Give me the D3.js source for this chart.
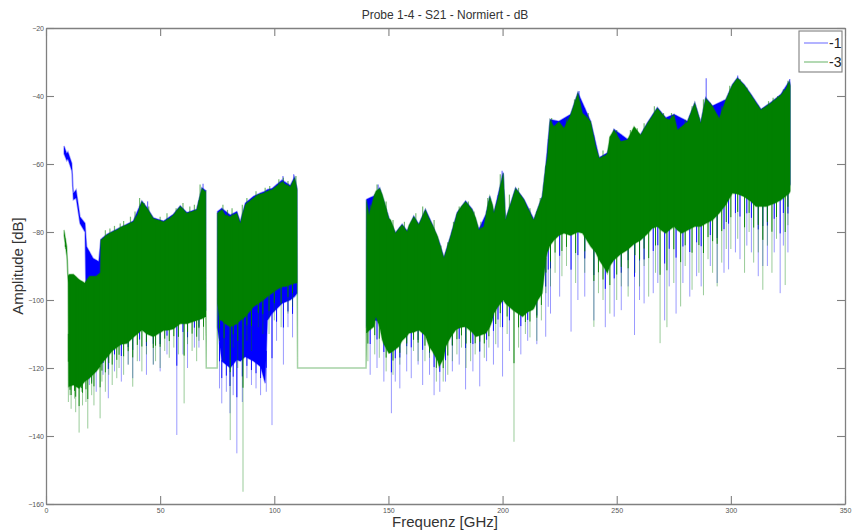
<!DOCTYPE html>
<html>
<head>
<meta charset="utf-8">
<script src="https://cdn.jsdelivr.net/npm/d3@7"></script>
<style>
  body { margin: 0; background: #fff; }
  svg { font-family: "Liberation Sans", Arial, sans-serif; }
</style>
</head>
<body>
<div id="chart"></div>
<script>
// series names and colours (legend)
var seriesNames = ["-1", "-3"];
var seriesColors = ["#0000ff", "#008000"];

var xTicks = [0, 50, 100, 150, 200, 250, 300, 350];
var yTicks = [-160, -140, -120, -100, -80, -60, -40, -20];

// envelope of series -1 : [frequency GHz, upper dB, lower dB]; null = no data
var s1Envelope = [
  [7.9, -54.7, -57], [9.1, -56.9, -59], [9.6, -56.4, -58.5], [11.3, -59.8, -62],
  [12.0, -68.6, -70.5], [13.2, -67.6, -70], [14.9, -75.5, -77.5], [17.1, -77.4, -80],
  [17.8, -84.3, -112], [20.6, -87.7, -116], [23.1, -88.7, -116],
  [24.0, -82.2, -117], [26.6, -80.7, -115], [31, -79.2, -112], [35.4, -77.7, -110.8],
  [38.2, -76.8, -109], [42, -70.9, -106.8], [44.2, -72.8, -108], [47, -75.8, -108.8],
  [51.5, -76.8, -107], [55.8, -74.8, -106.5], [58.8, -72.3, -105], [61.7, -74.3, -105],
  [66, -73.3, -104], [68.3, -67, -103.5], [70.0, -67.8, -103],
  [70.1, null, null],
  [75.1, -74, -108], [77, -73, -118], [80.7, -75, -120], [83.6, -74, -117.6],
  [85.1, -77, -118], [87.3, -71.5, -116.7], [90.9, -69.5, -118], [94, -68.5, -119.6],
  [96, -68, -124.5], [97, -67.5, -106], [99, -67.2, -104], [103.4, -64.7, -101],
  [107, -66.3, -100], [108.9, -63.8, -99], [110, -67.2, -98],
  [110.1, null, null],
  [140.4, -70.4, -107.8], [143.6, -69.4, -106], [146.2, -67, -106], [150.2, -75.8, -113.7],
  [153.1, -80.2, -112.5], [156, -77.7, -110], [158.2, -79.7, -108.5], [161.1, -75.3, -107.5],
  [163.3, -77.7, -106.8], [166.2, -73.3, -108.5], [169.2, -77.7, -113], [172.2, -82.8, -117.6],
  [174.3, -87.5, -115], [177.2, -81.2, -109], [180.1, -74.3, -106.5], [183.8, -70.9, -106],
  [186.7, -73.3, -107.5], [189.6, -79.2, -108.5], [192.7, -74.8, -107.8], [194.4, -69.4, -106],
  [196.2, -74.3, -102], [200.3, -62.5, -98], [201.3, -76.3, -99], [205.7, -67, -101.5],
  [209.4, -70.4, -102.5], [213.7, -76.3, -100.5], [217.4, -69.4, -96], [218.9, -60.6, -86.2],
  [220.8, -46.9, -82], [224.7, -47.4, -79], [229.8, -45.4, -79], [233, -39, -78],
  [238.6, -47.4, -82.3], [242.3, -58.1, -86.2], [245.9, -56.7, -90.2], [248.8, -49.8, -86.2],
  [254.7, -52.7, -83.3], [260.5, -51.3, -80.4], [263.5, -47.8, -78.5], [267.8, -43.4, -76.4],
  [271.5, -46.4, -78.4], [275.1, -45.4, -76.4], [281, -47.4, -77.5], [284.2, -41.9, -76.4],
  [286.8, -47.8, -76.4], [289, -40.5, -75.5], [292, -42.9, -74.5], [297.8, -41, -70],
  [300.7, -36.6, -66.6], [302.9, -34.6, -66.8], [305.8, -36.6, -67.6], [308.8, -39.5, -69],
  [313.2, -43.9, -70.5], [317.5, -41.9, -70], [321.9, -39.5, -68.6], [325.6, -35.6, -66.6],
  [326, -36.8, -66]
];

// envelope of series -3
var s3Envelope = [
  [7.9, -79.4, -81], [9.1, -84.3, -87], [9.7, -93, -95], [9.9, -92.5, -125.5],
  [12, -92.4, -125], [14.5, -94, -126], [17, -95, -124], [19, -93, -123],
  [22, -93, -121], [23.8, -92, -119.5], [24.0, -82.4, -119], [26.6, -80.9, -117],
  [29, -80, -115], [31, -79.4, -114], [33, -78.5, -113], [35.4, -77.9, -112.8],
  [38.2, -77, -111], [40, -75, -110], [42, -71.1, -108.8], [44.2, -73, -110],
  [47, -76, -110.8], [49, -76.5, -110], [51.5, -77, -109], [54, -76, -108.8],
  [55.8, -75, -108.5], [58.8, -72.5, -107], [61.7, -74.5, -107], [64, -74, -106.5],
  [66, -73.5, -106], [68.3, -67.2, -105.5], [69.7, -68.1, -105], [70.0, -68, -105],
  [70.2, -120, -120], [75.0, -120, -120],
  [75.1, -74.5, -101], [76, -74, -105.9], [77, -73.5, -106], [78.5, -75, -107],
  [80.7, -75.5, -107.9], [82, -75, -107.5], [83.6, -74.5, -107], [85.1, -77.4, -106],
  [87.3, -72, -104.9], [89, -71, -103.5], [90.9, -70, -102], [93, -69, -101],
  [95.3, -68.6, -100], [97, -68, -99], [99, -67.6, -98], [101, -66.5, -97],
  [103.4, -65.2, -96.1], [105, -66, -96], [107, -66.7, -95.5], [108.9, -64.2, -95.1],
  [110, -67.6, -95], [110.2, -120, -120], [140.2, -120, -120],
  [140.4, -70.6, -109.8], [141.5, -75, -109], [143.6, -69.6, -107.9], [144.5, -68, -104.9],
  [146.2, -67.2, -108], [147.3, -69, -111.8], [148, -70.6, -113], [150.2, -76, -115.7],
  [151, -76.5, -115.5], [153.1, -80.4, -114.5], [154.6, -79, -113.7], [156, -77.9, -112],
  [158.2, -79.9, -110.5], [159, -78, -109.8], [161.1, -75.5, -109.5], [163.3, -77.9, -108.8],
  [166.2, -73.5, -110.5], [167.8, -76, -113.7], [169.2, -77.9, -115], [171.6, -81.4, -118],
  [172.2, -83, -119.6], [174.3, -87.7, -117], [175.1, -86, -113.7], [177.2, -81.4, -111],
  [179.5, -76, -108.8], [180.1, -74.5, -108.5], [182, -72.5, -108], [183.8, -71.1, -107.9],
  [186.7, -73.5, -109.5], [188.3, -76, -110.8], [189.6, -79.4, -110.5], [191.8, -78.4, -110],
  [192.7, -75, -109.8], [194.4, -69.6, -108], [195.6, -72, -105.9], [196.2, -74.5, -104],
  [198, -70, -102], [200.3, -62.7, -100], [201.3, -76.5, -101], [204.4, -70, -102.9],
  [205.7, -67.2, -103.5], [208.8, -70, -104.9], [209.4, -70.6, -104.5], [211, -73, -103.5],
  [213.2, -76, -102.9], [213.7, -76.5, -102.5], [215.5, -73, -100], [217.4, -69.6, -98],
  [218.9, -60.8, -88.2], [219.6, -58, -86], [220.8, -47.1, -84], [222.5, -49, -82.4],
  [224.7, -47.6, -81], [226.9, -49.5, -80.4], [229.8, -45.6, -81], [233, -39.2, -80],
  [235, -45.1, -80.4], [236.5, -46, -82], [238.6, -47.6, -84.3], [240.8, -54.9, -86],
  [242.3, -58.3, -88.2], [245, -57.5, -91], [245.9, -56.9, -92.2], [247, -52, -90],
  [248.8, -50, -88.2], [251.8, -53.4, -86.5], [254.7, -52.9, -85.3], [257.6, -49, -83.5],
  [260.5, -51.5, -82.4], [263.5, -48, -80.5], [265.5, -46, -79], [267.8, -43.6, -78.4],
  [269.5, -45, -79.5], [271.5, -46.6, -80.4], [273, -47, -79.5], [275.1, -45.6, -78.4],
  [276.6, -50, -79.5], [278.5, -49, -80.4], [281, -47.6, -79.5], [284.2, -42.1, -78.4],
  [286.8, -48, -78.4], [289, -40.7, -77.5], [292, -43.1, -76.5], [294.9, -46.6, -74.5],
  [297.8, -41.2, -72], [300.7, -36.8, -68.6], [302.9, -34.8, -68.8], [305.8, -36.8, -69.6],
  [308.8, -39.7, -71], [311, -42, -72.5], [313.2, -44.1, -72.5], [315.5, -43, -72.5],
  [317.5, -42.1, -72], [319.5, -41, -71.5], [321.9, -39.7, -70.6], [324, -38, -69.5],
  [325.6, -35.8, -68.6], [326, -37, -68]
];

// single dips below the dense band: [frequency GHz, dB]
var s1Spikes = [
  [19, -125], [20, -124], [22, -127], [25, -122], [27.3, -128.9], [30, -121], [33, -124],
  [36, -119], [38, -123], [41, -118], [44, -122], [47, -119], [50, -121], [53, -116],
  [57.3, -139.7], [60, -116], [62, -120], [65, -114], [67, -114],
  [76, -126], [77, -130.4], [79, -127], [80.6, -133.3], [82, -128], [83.6, -145.1],
  [86, -130], [88, -123], [90, -125], [92, -126], [94, -128], [96.5, -127], [99, -136.8],
  [101, -112], [104, -119], [106, -108], [108, -111],
  [142, -122], [145, -120], [148, -124], [151.3, -133.3], [153, -124], [155, -126],
  [158, -121], [160, -123], [163, -119], [165, -125], [168, -122], [170, -128],
  [172.5, -127], [175, -124], [178, -121], [181, -119], [183.8, -126.3], [187, -121],
  [190, -125.4], [193, -118], [196, -119], [198, -114], [200, -122.5], [203, -115],
  [208, -116], [211, -112], [215, -113], [218.9, -110.8], [220, -102], [221, -104],
  [225, -99], [230, -109.3], [233, -100], [236, -99], [240, -106], [245, -108],
  [248.9, -104.9], [252, -103], [255, -96], [257.8, -110.3], [260, -100], [262, -101],
  [266, -98], [268, -95], [271, -106], [273, -96], [276, -104], [279, -95], [282, -99],
  [285, -93], [287, -96], [291, -90], [294, -95], [297, -92], [299, -91], [302, -86],
  [304, -88], [307, -84], [309, -86], [312, -93], [314, -90], [316, -90], [319, -86],
  [321.6, -98], [323, -84], [325, -86]
];
var s3Spikes = [
  [8.5, -85], [9.8, -130], [10.5, -128], [11, -132], [12.5, -129], [13, -133],
  [14.5, -139], [15.5, -127], [16, -131], [17.5, -130], [18.3, -137.8], [20, -128],
  [21, -131], [23.7, -134.8], [24.5, -124], [26, -127], [27.5, -122], [29, -125],
  [31, -123], [32, -120], [34, -122], [36, -119], [38, -125.5], [40, -118], [42, -121],
  [44, -116], [47, -119], [48, -118], [50, -120], [52, -115], [54, -117], [56, -114],
  [58, -116], [60.5, -130.4], [62, -113], [64, -115], [66, -118], [67, -112], [69, -111.8],
  [76, -112], [78, -118], [80.7, -141.2], [82, -114], [84, -120], [86.3, -156.4],
  [88, -112], [90, -115], [93, -108], [95, -110], [97.7, -110], [100, -106], [103, -108],
  [106, -104], [108, -102],
  [141, -118], [144, -116], [146, -117], [149, -121], [152, -122], [155, -119],
  [158, -116], [161, -115], [163, -118], [166, -118], [168, -117], [171, -124],
  [174, -124], [176, -122], [178, -118], [180, -116], [182, -114], [184, -120],
  [186, -118], [188, -116], [190, -115], [192, -117], [194, -114], [197, -113],
  [199, -108], [202, -110], [205, -141.7], [207, -114], [210, -110], [212, -111],
  [215, -112], [217, -106], [219, -98], [221, -96], [223, -92], [226, -93], [228, -90],
  [232, -95], [236, -92], [240, -107.9], [242, -98], [244, -100], [247, -104],
  [250, -100], [252, -96], [255, -99], [258, -92], [260, -96], [262, -90], [264, -99],
  [267, -92], [269, -112.7], [272, -108], [275, -95], [278, -101.9], [280, -90],
  [283, -97], [286, -92], [288, -98.6], [290, -88], [292, -92], [294, -96], [296, -89],
  [298, -85], [300, -85], [303, -82], [306, -92], [308, -80], [310, -89], [312, -86],
  [314, -97], [316, -84], [318, -92], [320, -82], [323.8, -95.6], [325, -78]
];

// short peaks poking above the band: [frequency GHz, dB]
var s1Peaks = [
  [44.5, -71], [68.8, -65.8], [103.8, -63.5], [108.5, -63], [145.5, -66],
  [199.8, -62], [233.5, -38.5], [289.2, -34.8], [303, -34], [325.8, -35]
];
var s3Peaks = [
  [26, -79.5], [28, -79], [30, -78.2], [32.5, -77.5], [34, -76.8], [37, -75.5],
  [39, -74], [41, -70], [43, -71.5], [45, -72.5], [50, -75.5], [53, -74.5], [57, -73],
  [60, -71.5], [63, -72.5], [65, -72], [67.5, -66], [77.5, -72], [79.5, -73.5],
  [81.5, -73], [86, -72], [88, -70], [92, -68], [96, -67], [98, -66.5], [102, -64.5],
  [104, -64], [106, -65], [109.5, -63.5], [142, -72], [145, -66], [149, -71],
  [152, -76.5], [157, -77], [162, -74.5], [165, -72.5], [170, -76.5], [173, -84],
  [176, -83], [178.5, -77], [181, -72.5], [185, -71], [187.5, -74], [190.5, -77],
  [193.5, -70], [199, -63], [203, -69], [207, -67], [212, -73], [216.5, -70],
  [221.5, -46.5], [228, -46.5], [231.5, -41], [234, -42], [237.5, -45], [244, -56],
  [250, -50], [256, -50], [259, -49.5], [262, -48], [266.5, -43], [270.5, -45],
  [274, -45], [280, -47], [283, -43], [288, -41], [291, -42], [296, -43], [299.5, -37],
  [304, -35], [307, -37.5], [310, -41], [314, -43.5], [316.5, -41.5], [318.5, -40.5],
  [320.5, -40], [323, -38], [325, -35.5]
];

var width = 852, height = 531;
var margin = {left: 46, top: 28, right: 7, bottom: 27};

var svg = d3.select("#chart").append("svg")
    .attr("width", width)
    .attr("height", height);

var x = d3.scaleLinear().domain([0, 350]).range([margin.left, width - margin.right]);
var y = d3.scaleLinear().domain([-160, -20]).range([height - margin.bottom, margin.top]);

svg.append("clipPath").attr("id", "clip")
    .append("rect")
    .attr("x", margin.left).attr("y", margin.top)
    .attr("width", x(350) - margin.left).attr("height", y(-160) - margin.top);

var plot = svg.append("g").attr("clip-path", "url(#clip)");

var area = d3.area()
    .defined(function(d) { return d[1] != null; })
    .x(function(d) { return x(d[0]); })
    .y0(function(d) { return y(d[2]); })
    .y1(function(d) { return y(d[1]); });

// band edge (k=1 top, k=2 bottom) at a given frequency
function edgeAt(env, f, k) {
    var pts = env.filter(function(d) { return d[1] != null; });
    var i = d3.bisector(function(d) { return d[0]; }).left(pts, f);
    if (i <= 0) return pts[0][k];
    if (i >= pts.length) return pts[pts.length - 1][k];
    var a = pts[i - 1], b = pts[i];
    var t = (f - a[0]) / (b[0] - a[0]);
    return a[k] + t * (b[k] - a[k]);
}

function drawSeries(env, spikes, peaks, color) {
    plot.append("path")
        .datum(env)
        .attr("d", area)
        .attr("fill", color)
        .attr("stroke", color)
        .attr("stroke-opacity", 0.35)
        .attr("stroke-width", 1.5);

    var g = plot.append("g");
    spikes.forEach(function(d) {
        var px = x(d[0]);
        var bottom = edgeAt(env, d[0], 2);
        // faint full dip
        g.append("line")
            .attr("x1", px).attr("x2", px)
            .attr("y1", y(d[1])).attr("y2", y(edgeAt(env, d[0], 1)))
            .attr("stroke", color)
            .attr("stroke-opacity", 0.4)
            .attr("stroke-width", 1);
        // saturated part close to the band
        g.append("line")
            .attr("x1", px).attr("x2", px)
            .attr("y1", y(bottom + 0.4 * (d[1] - bottom))).attr("y2", y(bottom) - 1)
            .attr("stroke", color)
            .attr("stroke-opacity", 0.9)
            .attr("stroke-width", 1);
    });

    g.selectAll(null)
        .data(peaks)
        .enter()
        .append("line")
        .attr("x1", function(d) { return x(d[0]); })
        .attr("x2", function(d) { return x(d[0]); })
        .attr("y1", function(d) { return y(d[1]); })
        .attr("y2", function(d) { return y(edgeAt(env, d[0], 1)) + 2; })
        .attr("stroke", color)
        .attr("stroke-opacity", 0.55)
        .attr("stroke-width", 1.2);
}

drawSeries(s1Envelope, s1Spikes, s1Peaks, seriesColors[0]);
drawSeries(s3Envelope, s3Spikes, s3Peaks, seriesColors[1]);

// axes, MATLAB style with ticks pointing inwards
var axisColor = "#808080";
var tickLen = 8;

var gx = svg.append("g")
    .attr("transform", "translate(0," + y(-160) + ")")
    .call(d3.axisBottom(x).tickValues(xTicks).tickSize(-tickLen).tickPadding(4).tickSizeOuter(0));
var gxTop = svg.append("g")
    .attr("transform", "translate(0," + y(-20) + ")")
    .call(d3.axisTop(x).tickValues(xTicks).tickSize(-tickLen).tickFormat("").tickSizeOuter(0));
var gy = svg.append("g")
    .attr("transform", "translate(" + x(0) + ",0)")
    .call(d3.axisLeft(y).tickValues(yTicks).tickSize(-tickLen).tickPadding(2).tickSizeOuter(0));
var gyRight = svg.append("g")
    .attr("transform", "translate(" + x(350) + ",0)")
    .call(d3.axisRight(y).tickValues(yTicks).tickSize(-tickLen).tickFormat("").tickSizeOuter(0));

[gx, gxTop, gy, gyRight].forEach(function(g) {
    g.select(".domain").attr("stroke", axisColor).attr("stroke-width", 1.3);
    g.selectAll(".tick line").attr("stroke", axisColor).attr("stroke-width", 1.1);
    g.selectAll(".tick text")
        .attr("fill", "#555")
        .style("font-size", "7px")
        .style("font-family", "Liberation Sans, Arial, sans-serif");
});

// title and axis labels
svg.append("text")
    .attr("x", 445).attr("y", 19)
    .attr("text-anchor", "middle")
    .attr("fill", "#333")
    .style("font-size", "12px")
    .text("Probe 1-4 - S21 - Normiert - dB");

svg.append("text")
    .attr("x", 445).attr("y", 527)
    .attr("text-anchor", "middle")
    .attr("fill", "#333")
    .style("font-size", "15px")
    .text("Frequenz [GHz]");

svg.append("text")
    .attr("transform", "translate(23," + y(-90) + ") rotate(-90)")
    .attr("text-anchor", "middle")
    .attr("fill", "#333")
    .style("font-size", "15px")
    .text("Amplitude [dB]");

// legend
var legend = svg.append("g").attr("transform", "translate(799,31)");
legend.append("rect")
    .attr("width", 43).attr("height", 41)
    .attr("fill", "#fff")
    .attr("stroke", axisColor)
    .attr("stroke-width", 1.1);

seriesNames.forEach(function(name, i) {
    var ly = 12 + i * 19;
    legend.append("line")
        .attr("x1", 5).attr("x2", 29)
        .attr("y1", ly).attr("y2", ly)
        .attr("stroke", seriesColors[i])
        .attr("stroke-opacity", 0.5)
        .attr("stroke-width", 1.2);
    legend.append("text")
        .attr("x", 30).attr("y", ly + 5)
        .attr("fill", "#222")
        .style("font-size", "14px")
        .text(name);
});
</script>
</body>
</html>
